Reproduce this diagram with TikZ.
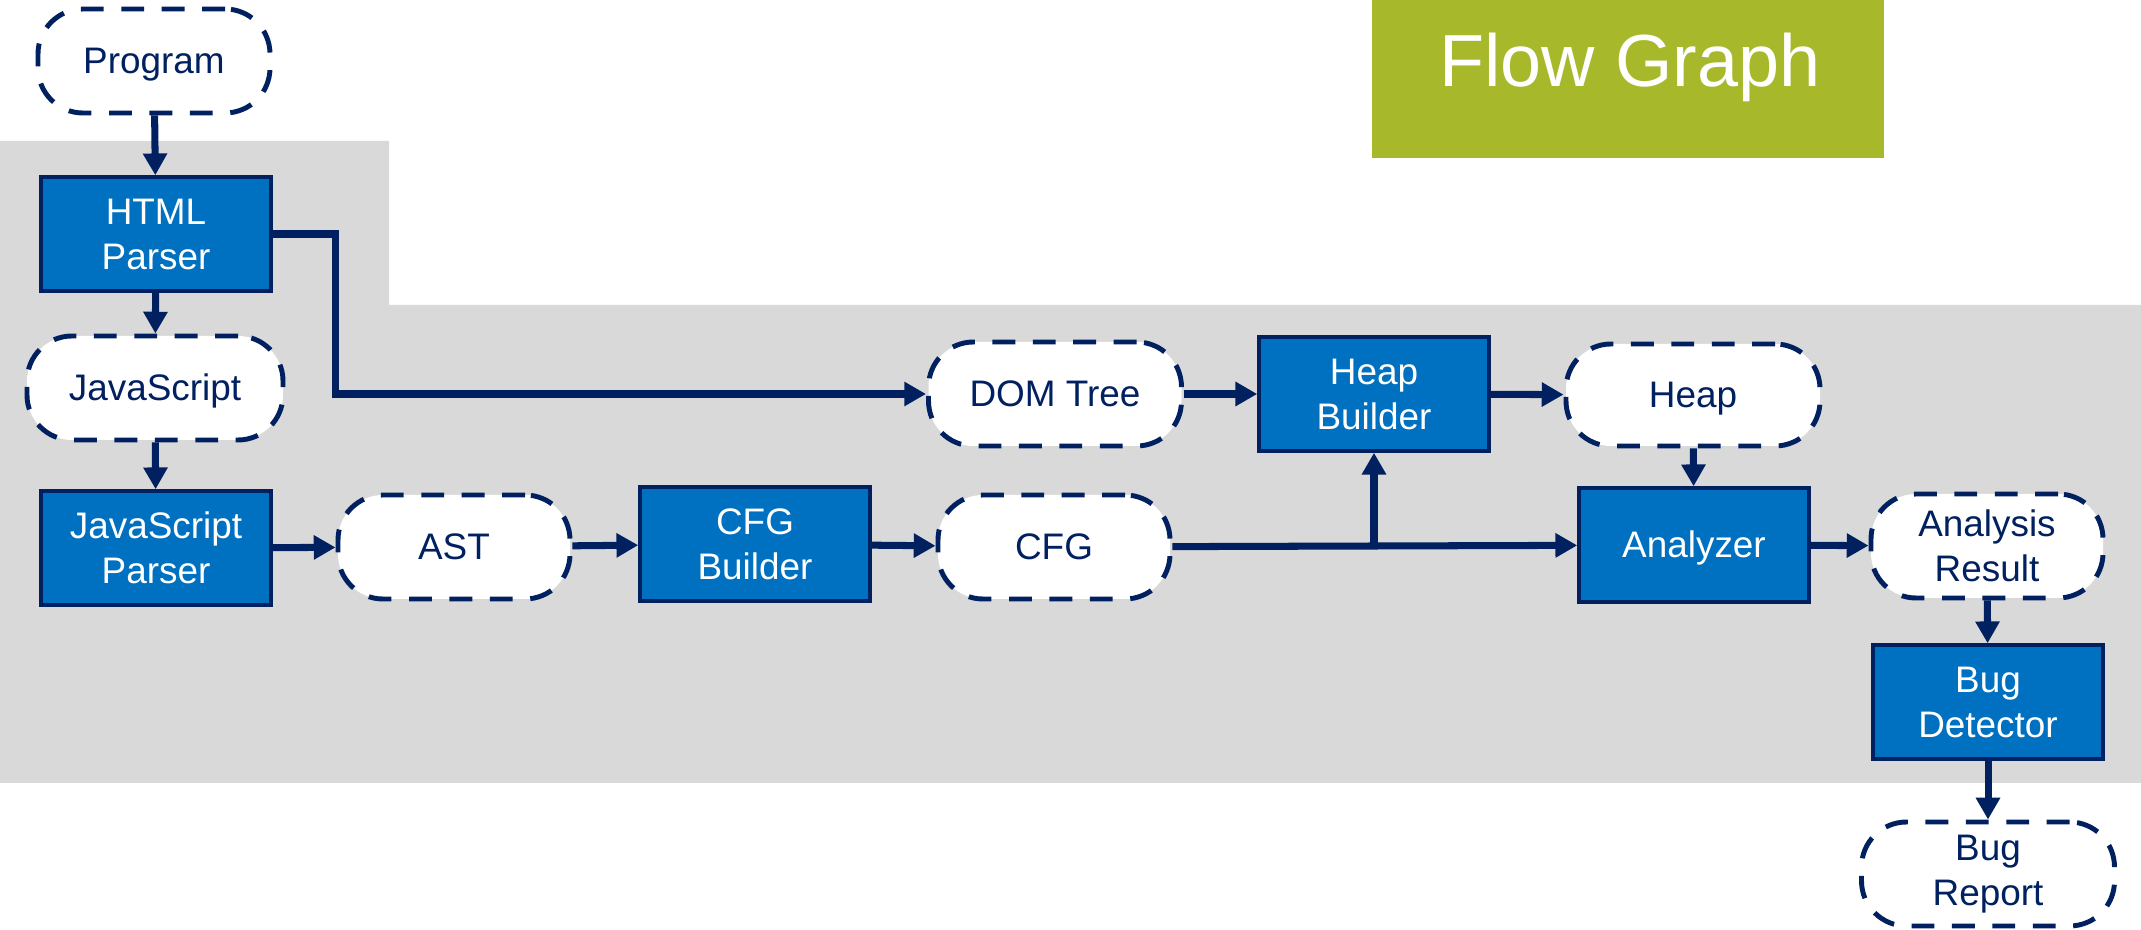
\documentclass[tikz,border=0pt]{standalone}
\usepackage{fontspec}
\setmainfont{Liberation Sans}
\usepackage{xcolor}
\definecolor{navy}{HTML}{002060}
\definecolor{boxblue}{HTML}{0070C0}
\definecolor{panel}{HTML}{D9D9D9}
\definecolor{leaf}{HTML}{A7B92A}
\usepackage{tikz}
\usetikzlibrary{positioning,arrows.meta,calc}

\begin{document}
\begin{tikzpicture}[
		proc/.style={draw=navy,line width=1pt,fill=boxblue,text=white,minimum width=2.3cm,minimum height=1.14cm,align=center,inner sep=0pt,font=\fontsize{10.5}{12.8}\selectfont},
		term/.style={draw=navy,line width=1.4pt,dash pattern=on 6.5pt off 5pt,fill=white,text=navy,rounded corners=.45cm,minimum width=2.32cm,minimum height=1.04cm,align=center,inner sep=0pt,font=\fontsize{10.5}{12.8}\selectfont},
		oneline/.style={text height=.716em,text depth=0pt},
		flow/.style={draw=navy,line width=2pt,-{Triangle[length=6.2pt,width=6.6pt]}}]
			\useasboundingbox (0,0) rectangle (21.41,-9.30);
			
			%%% GREY PANEL
			\fill[panel] (0,-1.41) -- (3.89,-1.41) -- (3.89,-3.05) -- (21.41,-3.05) -- (21.41,-7.83) -- (0,-7.83) -- cycle;
			
			%%% TITLE
			\fill[leaf] (13.72,0) rectangle (18.84,-1.58);
			\node[text=white,anchor=base,font=\fontsize{21}{25}\selectfont] (title) at (16.30,-.87) {Flow Graph};
			
			%%% LEFT COLUMN
			\node[term,oneline] (prog) at (1.54,-.61) {Program};
			\node[proc] (html) at (1.56,-2.34) {HTML\\Parser};
			\node[term,oneline,minimum width=2.56cm] (js) at (1.55,-3.88) {JavaScript};
			\node[proc] (jsp) at (1.56,-5.48) {JavaScript\\Parser};
			
			%%% MIDDLE ROW
			\node[term,oneline] (ast) at (4.54,-5.47) {AST};
			\node[proc] (cfgb) at (7.55,-5.44) {CFG\\Builder};
			\node[term,oneline] (cfg) at (10.54,-5.47) {CFG};
			\node[proc,oneline] (ana) at (16.94,-5.45) {Analyzer};
			\node[term] (res) at (19.87,-5.46) {Analysis\\Result};
			
			%%% UPPER ROW
			\node[term,oneline,minimum width=2.53cm] (dom) at (10.55,-3.94) {DOM Tree};
			\node[proc] (hb) at (13.74,-3.94) {Heap\\Builder};
			\node[term,oneline,minimum width=2.54cm,minimum height=1.02cm] (heap) at (16.93,-3.95) {Heap};
			
			%%% RIGHT COLUMN
			\node[proc] (bug) at (19.88,-7.02) {Bug\\Detector};
			\node[term,minimum width=2.53cm] (rep) at (19.88,-8.74) {Bug\\Report};
			
			%%% CONNECTORS
			\draw[flow] (prog) -- (html);
			\draw[flow] (html) -- (js);
			\draw[flow] (js) -- (jsp);
			\draw[flow] (html.east) -- ++(.63,0) |- (dom.west);
			\draw[flow] (jsp) -- (ast);
			\draw[flow] (ast) -- (cfgb);
			\draw[flow] (cfgb) -- (cfg);
			\draw[flow] (cfg) -- (ana);
			\draw[flow] (cfg.east -| hb.south) -- (hb.south);
			\draw[flow] (dom) -- (hb);
			\draw[flow] (hb) -- (heap);
			\draw[flow] (heap) -- (ana);
			\draw[flow] (ana) -- (res);
			\draw[flow] (res) -- (bug);
			\draw[flow] (bug) -- (rep);
			
		\end{tikzpicture}
\end{document}
